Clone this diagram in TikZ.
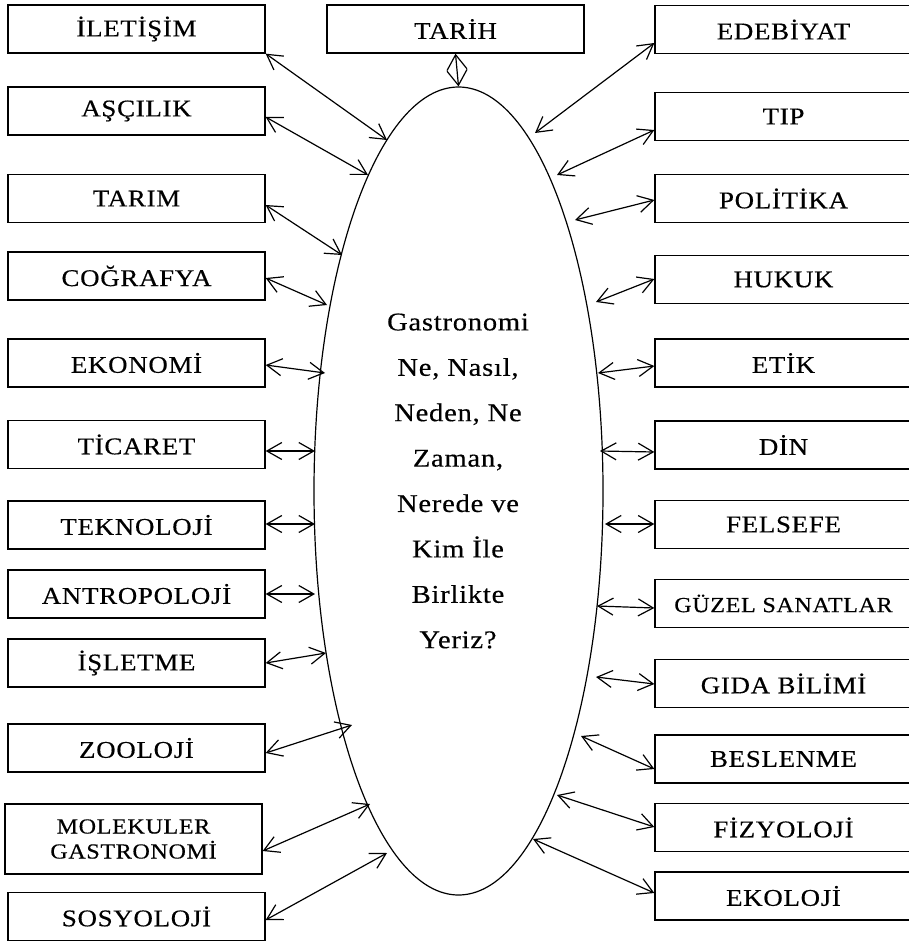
\documentclass[tikz,border=0pt]{standalone}
\usepackage{fontspec}
\setmainfont{Liberation Serif}[FakeStretch=1.12,LetterSpace=3,FakeBold=0.4]
\usetikzlibrary{arrows.meta,shapes.geometric}
\begin{document}
\begin{tikzpicture}[x=1pt,y=-1pt,
  box/.style={draw,line width=1.3pt,rectangle,minimum width=257pt,minimum height=48pt,inner sep=0pt,
    font=\fontsize{24}{26}\selectfont},
  conn/.style={<->,>={Straight Barb[length=15pt,width=17pt]},line width=1.2pt},
  oval/.style={draw,ellipse,line width=1.2pt,minimum width=289pt,minimum height=808pt,inner sep=0pt}]
\useasboundingbox (0,0) rectangle (908,944);
% central ellipse
\node[oval] (el) at (458.5,491) {};
\node[align=center,font=\fontsize{25.5}{45.4}\selectfont] (q) at (458,481)
  {Gastronomi\\Ne, Nasıl,\\Neden, Ne\\Zaman,\\Nerede ve\\Kim İle\\Birlikte\\Yeriz?};
% top box
\node[box] (t) at (455.5,29) {TARİH};
% left boxes
\node[box] (l1) at (136.5,29) {İLETİŞİM};
\node[box] (l2) at (136.5,111) {AŞÇILIK};
\node[box] (l3) at (136.5,198.5) {TARIM};
\node[box] (l4) at (136.5,276) {COĞRAFYA};
\node[box] (l5) at (136.5,363) {EKONOMİ};
\node[box] (l6) at (136.5,444.5) {TİCARET};
\node[box] (l7) at (136.5,525) {TEKNOLOJİ};
\node[box] (l8) at (136.5,594) {ANTROPOLOJİ};
\node[box] (l9) at (136.5,663) {İŞLETME};
\node[box] (l10) at (136.5,748) {ZOOLOJİ};
\node[box,minimum height=70pt,align=center,font=\fontsize{21.5}{25}\selectfont] (l11) at (133.5,839) {MOLEKULER\\GASTRONOMİ};
\node[box] (l12) at (136.5,916.5) {SOSYOLOJİ};
% right boxes
\node[box] (r1) at (783.5,29.5) {EDEBİYAT};
\node[box] (r2) at (783.5,116.5) {TIP};
\node[box] (r3) at (783.5,198.5) {POLİTİKA};
\node[box] (r4) at (783.5,279.5) {HUKUK};
\node[box] (r5) at (783.5,363) {ETİK};
\node[box] (r6) at (783.5,445) {DİN};
\node[box] (r7) at (783.5,524.5) {FELSEFE};
\node[box,font=\fontsize{21.5}{24}\selectfont] (r8) at (783.5,603.5) {GÜZEL SANATLAR};
\node[box] (r9) at (783.5,683.5) {GIDA BİLİMİ};
\node[box] (r10) at (783.5,759) {BESLENME};
\node[box] (r11) at (783.5,827.5) {FİZYOLOJİ};
\node[box] (r12) at (783.5,896) {EKOLOJİ};
% ellipse-side end points
\coordinate (e1) at (387,140);
\coordinate (e2) at (368,175);
\coordinate (e3) at (342,255);
\coordinate (e4) at (327,305);
\coordinate (e5) at (325,373);
\coordinate (e6) at (315,451);
\coordinate (e7) at (315,524);
\coordinate (e8) at (315,594);
\coordinate (e9) at (326,653);
\coordinate (e10) at (352,725);
\coordinate (e11) at (370,804);
\coordinate (e12) at (387,853);
\coordinate (f1) at (535,133);
\coordinate (f2) at (557,175);
\coordinate (f3) at (575,220);
\coordinate (f4) at (596,302);
\coordinate (f5) at (598,373);
\coordinate (f6) at (600,451);
\coordinate (f7) at (605,524);
\coordinate (f8) at (597,606);
\coordinate (f9) at (596,677);
\coordinate (f10) at (581,736);
\coordinate (f11) at (557,795);
\coordinate (f12) at (533,839);
% connectors
\draw[conn,>={Straight Barb[length=15pt,width=20pt]}] (t.south) -- (el.north);
\draw[conn] (l1.south east) -- (e1);
\draw[conn] ([yshift=-6pt]l2.east) -- (e2);
\draw[conn] ([yshift=-6.5pt]l3.east) -- (e3);
\draw[conn] ([yshift=-2pt]l4.east) -- (e4);
\draw[conn] ([yshift=-2pt]l5.east) -- (e5);
\draw[conn] ([yshift=-6.5pt]l6.east) -- (e6);
\draw[conn] ([yshift=1pt]l7.east) -- (e7);
\draw[conn] (l8.east) -- (e8);
\draw[conn] (l9.east) -- (e9);
\draw[conn] ([yshift=-5pt]l10.east) -- (e10);
\draw[conn] ([yshift=-12pt]l11.east) -- (e11);
\draw[conn] ([yshift=-3.5pt]l12.east) -- (e12);
\draw[conn] ([yshift=-13.5pt]r1.west) -- (f1);
\draw[conn] ([yshift=-13.5pt]r2.west) -- (f2);
\draw[conn] ([yshift=-1.5pt]r3.west) -- (f3);
\draw[conn] ([yshift=0.5pt]r4.west) -- (f4);
\draw[conn] ([yshift=-3pt]r5.west) -- (f5);
\draw[conn] ([yshift=-7pt]r6.west) -- (f6);
\draw[conn] ([yshift=0.5pt]r7.west) -- (f7);
\draw[conn] ([yshift=-4.5pt]r8.west) -- (f8);
\draw[conn] ([yshift=-0.5pt]r9.west) -- (f9);
\draw[conn] ([yshift=-10pt]r10.west) -- (f10);
\draw[conn] ([yshift=0.5pt]r11.west) -- (f11);
\draw[conn] ([yshift=3pt]r12.west) -- (f12);
\end{tikzpicture}
\end{document}
